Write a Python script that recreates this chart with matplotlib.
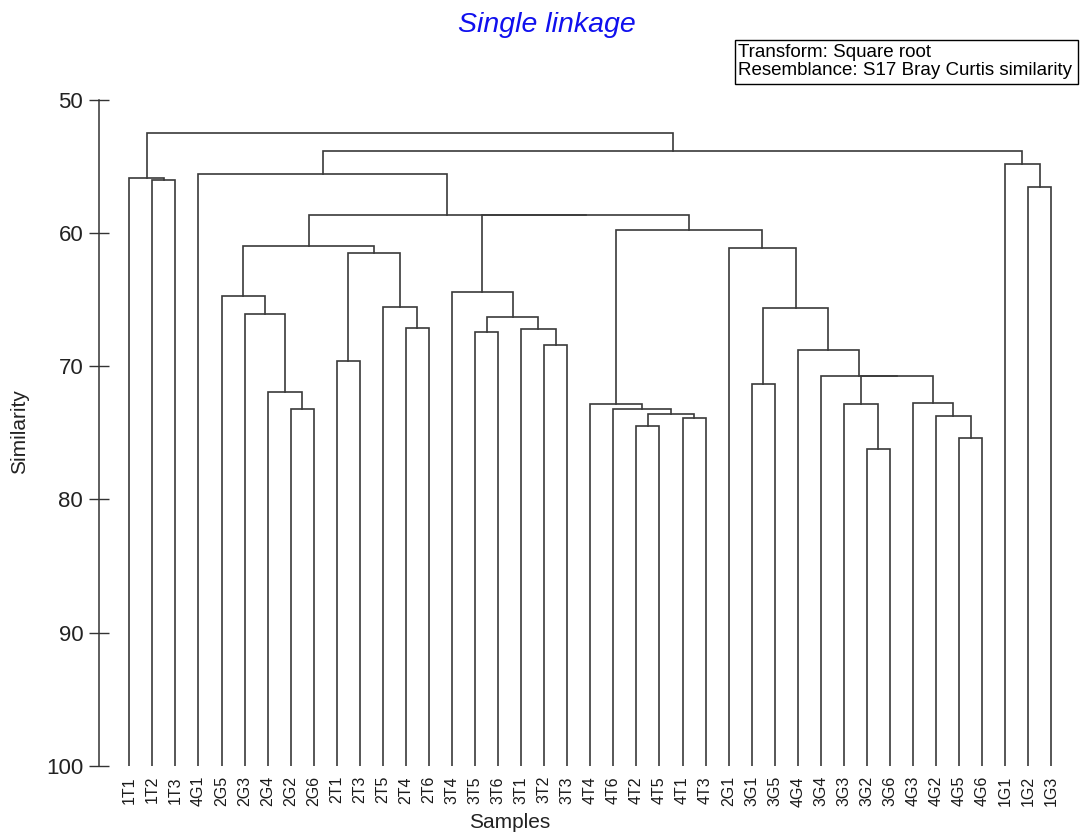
# -*- coding: utf-8 -*-

'''
Single linkage dendrogram - Bray Curtis similarity on sqrt transformed data
'''

import matplotlib
matplotlib.use('Agg')
import matplotlib.pyplot as plt
from matplotlib.patches import Rectangle

################################################################################

# leaf order along the x axis
samples = ['1T1', '1T2', '1T3', '4G1', '2G5', '2G3', '2G4', '2G2', '2G6',
           '2T1', '2T3', '2T5', '2T4', '2T6', '3T4', '3T5', '3T6', '3T1',
           '3T2', '3T3', '4T4', '4T6', '4T2', '4T5', '4T1', '4T3', '2G1',
           '3G1', '3G5', '4G4', '3G4', '3G3', '3G2', '3G6', '4G3', '4G2',
           '4G5', '4G6', '1G1', '1G2', '1G3']

# merges: (child a, child b, similarity); str = sample, int = earlier merge
merge_a = ['1T2', '1T1', '2G2', '2G4', '2G3', '2G5', '2T1', '2T4', '2T5', 6,
           5, '3T5', '3T2', '3T1', 11, '3T4', '4T2', '4T1', 16, '4T6',
           '4T4', '3G1', '3G2', '3G3', '4G5', '4G2', '4G3', 23, '3G4', '4G4',
           21, '2G1', 20, 15, 10, '4G1', '1G2', '1G1', 35, 1]
merge_b = ['1T3', 0, '2G6', 2, 3, 4, '2T3', '2T6', 7, 8,
           9, '3T6', '3T3', 12, 13, 14, '4T5', '4T3', 17, 18,
           19, '3G5', '3G6', 22, '4G6', 24, 25, 26, 27, 28,
           29, 30, 31, 32, 33, 34, '1G3', 36, 37, 38]
merge_sim = [56.0, 55.85, 73.2, 71.93, 66.08, 64.75, 69.6, 67.13, 65.55, 61.52,
             60.95, 67.43, 68.4, 67.2, 66.28, 64.4, 74.48, 73.86, 73.58, 73.23,
             72.86, 71.33, 76.24, 72.86, 75.4, 73.7, 72.73, 70.72, 70.7, 68.75,
             65.63, 61.15, 59.75, 58.65, 58.65, 55.58, 56.55, 54.77, 53.8, 52.5]

yticks = [50, 60, 70, 80, 90, 100]

################################################################################

def node_pos(node, xs, hs):
    # leaf -> (x, 100), merge -> stored position
    if isinstance(node, str):
        return samples.index(node), 100.0
    return xs[node], hs[node]

def draw_dendrogram(ax, line_color='#3a3a3a', lw=1.2):
    xs, hs = [], []
    for a, b, s in zip(merge_a, merge_b, merge_sim):
        xa, ha = node_pos(a, xs, hs)
        xb, hb = node_pos(b, xs, hs)
        ax.plot([xa, xa, xb, xb], [ha, s, s, hb], color=line_color, lw=lw,
                solid_joinstyle='miter')
        xs.append((xa + xb) / 2.0)
        hs.append(s)

################################################################################

if __name__ == "__main__":

    plt.rcParams['font.family'] = ['Liberation Sans', 'DejaVu Sans']

    W, H = 1082, 840
    fig = plt.figure(figsize=(W / 100, H / 100), dpi=100)

    # axes placed in pixels: spine at x=98.7, 50 at y=100, 100 at y=765.7
    left_px, right_px, top_px, bot_px = 98.7, 1075, 100, 765.7
    ax = fig.add_axes([left_px / W, 1 - bot_px / H,
                       (right_px - left_px) / W, (bot_px - top_px) / H])

    draw_dendrogram(ax)

    step = 23.05
    ax.set_xlim((left_px - 129.3) / step, (right_px - 129.3) / step)
    ax.set_ylim(100, 50)

    ax.set_yticks(yticks)
    ax.set_yticklabels([str(t) for t in yticks], fontsize=16, color='#222222')
    ax.tick_params(axis='y', direction='inout', length=14.4, width=1,
                   pad=4, color='#333333')

    ax.set_xticks(range(len(samples)))
    ax.set_xticklabels(samples, rotation=90, fontsize=11.5, color='#1a1a1a')
    ax.tick_params(axis='x', length=0, pad=7.5)

    for side in ['top', 'right', 'bottom']:
        ax.spines[side].set_visible(False)
    ax.spines['left'].set_color('#333333')
    ax.spines['left'].set_linewidth(1.1)

    fig.text(20 / W, 1 - 432 / H, 'Similarity', rotation=90, fontsize=15,
             ha='center', va='center', color='#222222')
    fig.text(510 / W, 1 - 823 / H, 'Samples', fontsize=15,
             ha='center', va='center', color='#222222')

    fig.text(547 / W, 1 - 25 / H, 'Single linkage', fontsize=20.5,
             style='italic', color='#1010ee', ha='center', va='center')

    # info box top right
    fig.patches.append(Rectangle((735 / W, 1 - 84 / H), (1078 - 735) / W,
                                 (84 - 40) / H, transform=fig.transFigure,
                                 fill=False, edgecolor='black', lw=1))
    fig.text(738 / W, 1 - 61.5 / H,
             'Transform: Square root\nResemblance: S17 Bray Curtis similarity',
             fontsize=13.5, ha='left', va='center', linespacing=1.05,
             color='black')

    fig.savefig('out.png', dpi=100)
